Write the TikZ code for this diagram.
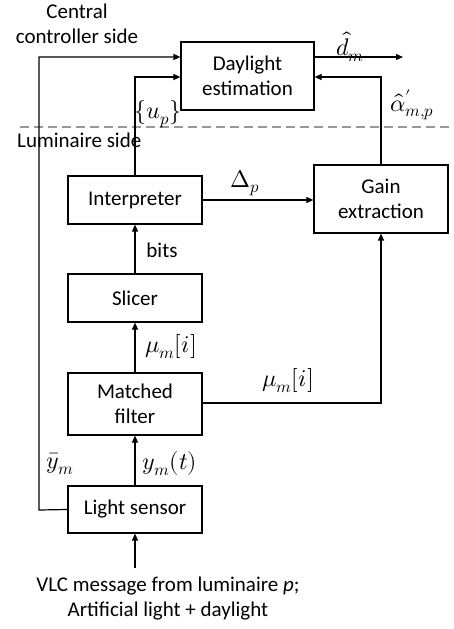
\documentclass[tikz,border=0pt]{standalone}
\usepackage{fontspec}
\usepackage{unicode-math}
\setmainfont{Carlito}
\setmathfont{Latin Modern Math}
\usetikzlibrary{arrows.meta}
\begin{document}
\begin{tikzpicture}[x=1pt,y=-1pt,
  every node/.style={font=\fontsize{21}{25}\selectfont},
  blk/.style={draw,line width=1.2pt,minimum width=134pt,align=center,inner sep=0pt},
  lbl/.style={inner sep=0pt},
  mlbl/.style={inner sep=0pt,font=\fontsize{24}{28}\selectfont},
  conn/.style={line width=1.2pt},
  arr/.style={conn,-{Triangle[length=7pt,width=6pt]}}]
\useasboundingbox (0,0) rectangle (454,629);
% blocks
\node[blk,minimum width=133pt,minimum height=68pt] (day) at (247.5,76) {Daylight\\estimation};
\node[blk,minimum height=48pt] (interp) at (135,200) {Interpreter};
\node[blk,minimum height=68pt] (gain) at (381,199) {Gain\\extraction};
\node[blk,minimum height=48pt] (slicer) at (135,298) {Slicer};
\node[blk,minimum height=62pt] (mf) at (135,404) {Matched\\filter};
\node[blk,minimum height=47pt] (ls) at (135,509.5) {Light sensor};
\coordinate (dout) at (403,57);
\coordinate (vin) at (135,568);
\coordinate (lft) at (39,510);
% dashed separator
\coordinate (dsA) at (20,127);
\coordinate (dsB) at (454,127);
\draw[gray!80,line width=2pt,dash pattern=on 9pt off 5pt] (dsA) -- (dsB);
% connectors
\draw[arr] (ls.west) -- (lft) |- ([yshift=19pt]day.west);
\draw[arr] (interp.north) |- ([yshift=-1pt]day.west);
\draw[arr] (gain.north) |- ([yshift=-1pt]day.east);
\draw[arr] ([yshift=19pt]day.east) -- (dout);
\draw[arr] (interp.east) -- (interp.east -| gain.west);
\draw[arr] (slicer.north) -- (interp.south);
\draw[arr] (mf.north) -- (slicer.south);
\draw[arr] ([yshift=1pt]mf.east) -| (gain.south);
\draw[arr] (ls.north) -- (mf.south);
\draw[arr] (vin) -- (ls.south);
% labels
\node[lbl,align=center] (cc) at (77,24) {Central\\controller side};
\node[lbl,anchor=west] (lum) at (17,140) {Luminaire side};
\node[mlbl] (dm) at (350,47) {$\hat{d}_m$};
\node[mlbl] (up) at (158,114) {$\{u_p\}$};
\node[mlbl] (al) at (412,105) {$\hat{\alpha}'_{m,p}$};
\node[mlbl] (dp) at (245,183) {$\Delta_p$};
\node[lbl] (bits) at (162,250) {bits};
\node[mlbl] (mu1) at (171,347) {$\mu_m[i]$};
\node[mlbl] (mu2) at (288,381) {$\mu_m[i]$};
\node[mlbl] (yb) at (60,464) {$\bar{y}_m$};
\node[mlbl] (yt) at (170,464) {$y_m(t)$};
\node[lbl,align=center] (vlc) at (168,599) {VLC message from luminaire \textit{p};\\Artificial light + daylight};
\end{tikzpicture}
\end{document}
